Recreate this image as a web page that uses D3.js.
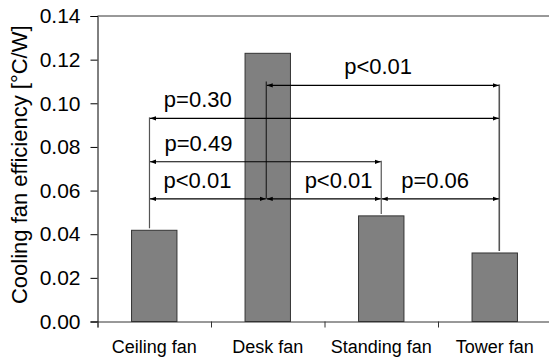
<!DOCTYPE html>
<html>
<head>
<meta charset="utf-8">
<script src="https://cdn.jsdelivr.net/npm/d3@7"></script>
<style>
  body { margin: 0; background: #fff; }
  svg { display: block; font-family: "Liberation Sans", Arial, sans-serif; }
</style>
</head>
<body>
<svg id="chart" width="549" height="360"></svg>
<script>
// bar data
const categories = ["Ceiling fan", "Desk fan", "Standing fan", "Tower fan"];
const efficiency = [0.0418, 0.1229, 0.0484, 0.0314];
const yTicks = [0, 0.02, 0.04, 0.06, 0.08, 0.10, 0.12, 0.14];

// pairwise comparisons (index into categories)
const compFrom = [1, 0, 0, 0, 1, 2];
const compTo = [3, 3, 2, 1, 2, 3];
const compLevel = [0.1082, 0.0931, 0.0732, 0.0562, 0.0562, 0.0562];
const compLabel = ["p<0.01", "p=0.30", "p=0.49", "p<0.01", "p<0.01", "p=0.06"];

// layout only: where the p label sits along its arrow, where the connector sits in the band
const labelAt = [0.48, 0.137, 0.21, 0.41, 0.63, 0.456];
const anchorShift = [-0.042, -0.013, 0, 0.04];

const svg = d3.select("#chart");
const mLeft = 97.5, mTop = 16, mBottom = 321.5, mRight = 551.5;

const x = d3.scaleBand()
  .domain(categories)
  .range([mLeft, mRight])
  .paddingInner(0.6)
  .paddingOuter(0.3);

const y = d3.scaleLinear()
  .domain([0, 0.14])
  .range([mBottom, mTop]);

// x position of the connector line for a category index
function ax(i) {
  const step = x.step();
  return x(categories[i]) + x.bandwidth() / 2 + anchorShift[i] * step;
}

// bars
svg.selectAll("rect.bar")
  .data(efficiency)
  .join("rect")
  .attr("class", "bar")
  .attr("x", (d, i) => x(categories[i]))
  .attr("y", d => y(d))
  .attr("width", x.bandwidth())
  .attr("height", d => y(0) - y(d))
  .attr("fill", "#808080")
  .attr("stroke", "#333")
  .attr("stroke-width", 1);

// y axis
const yAxis = svg.append("g")
  .attr("transform", `translate(${mLeft},0)`)
  .call(d3.axisLeft(y).tickValues(yTicks).tickFormat(d3.format(".2f")).tickSize(7).tickPadding(10));
yAxis.selectAll("text").attr("font-size", 21).attr("fill", "#000").attr("font-family", "Liberation Sans, Arial, sans-serif");
yAxis.select(".domain").attr("stroke", "#000");
yAxis.selectAll(".tick line").attr("stroke", "#000");

// top frame line
svg.append("line")
  .attr("x1", mLeft).attr("x2", mRight)
  .attr("y1", mTop).attr("y2", mTop)
  .attr("stroke", "#333");

// x axis with ticks between categories
const xb = d3.scaleLinear().domain([0, categories.length]).range([mLeft, mRight]);
const xAxis = svg.append("g")
  .attr("transform", `translate(0,${mBottom})`)
  .call(d3.axisBottom(xb).tickValues(d3.range(categories.length + 1)).tickFormat("").tickSize(6));
xAxis.select(".domain").attr("stroke", "#333");
xAxis.selectAll(".tick line").attr("stroke", "#333");

svg.append("g")
  .selectAll("text")
  .data(categories)
  .join("text")
  .attr("x", d => x(d) + x.bandwidth() / 2)
  .attr("y", 353)
  .attr("text-anchor", "middle")
  .attr("font-size", 18)
  .text(d => d);

// y title
svg.append("text")
  .attr("transform", `translate(27,${(mTop + mBottom) / 2 - 4}) rotate(-90)`)
  .attr("text-anchor", "middle")
  .attr("font-size", 22)
  .text("Cooling fan efficiency [°C/W]");

// arrow head
svg.append("defs").append("marker")
  .attr("id", "head")
  .attr("viewBox", "0 0 6 6")
  .attr("refX", 6).attr("refY", 3)
  .attr("markerWidth", 6).attr("markerHeight", 6)
  .attr("markerUnits", "userSpaceOnUse")
  .attr("orient", "auto-start-reverse")
  .append("path")
  .attr("d", "M0,0.8L6,3L0,5.2Z")
  .attr("fill", "#000");

// connector lines from each bar to its comparison arrows
categories.forEach((c, i) => {
  const levels = compLevel.filter((l, k) => compFrom[k] === i || compTo[k] === i);
  const lo = Math.min(efficiency[i], d3.min(levels));
  const hi = d3.max(levels);
  svg.append("line")
    .attr("x1", ax(i)).attr("x2", ax(i))
    .attr("y1", y(lo) - (lo === efficiency[i] ? 2 : 0))
    .attr("y2", y(hi) - (efficiency[i] > hi ? 4 : 1))
    .attr("stroke", efficiency[i] > hi ? "#222" : "#555")
    .attr("stroke-width", i === 3 ? 1.6 : 1.2);
});

// comparison arrows and labels
compLabel.forEach((lab, k) => {
  const x1 = ax(compFrom[k]) + 0.5, x2 = ax(compTo[k]) - 0.5;
  const [a, b] = x1 < x2 ? [x1, x2] : [x2, x1];
  svg.append("line")
    .attr("x1", a).attr("x2", b)
    .attr("y1", y(compLevel[k])).attr("y2", y(compLevel[k]))
    .attr("stroke", "#000")
    .attr("stroke-width", 1.2)
    .attr("marker-start", "url(#head)")
    .attr("marker-end", "url(#head)");
  svg.append("text")
    .attr("x", a + (b - a) * labelAt[k])
    .attr("y", y(compLevel[k]) - 11)
    .attr("text-anchor", "middle")
    .attr("font-size", 22)
    .text(lab);
});
</script>
</body>
</html>
